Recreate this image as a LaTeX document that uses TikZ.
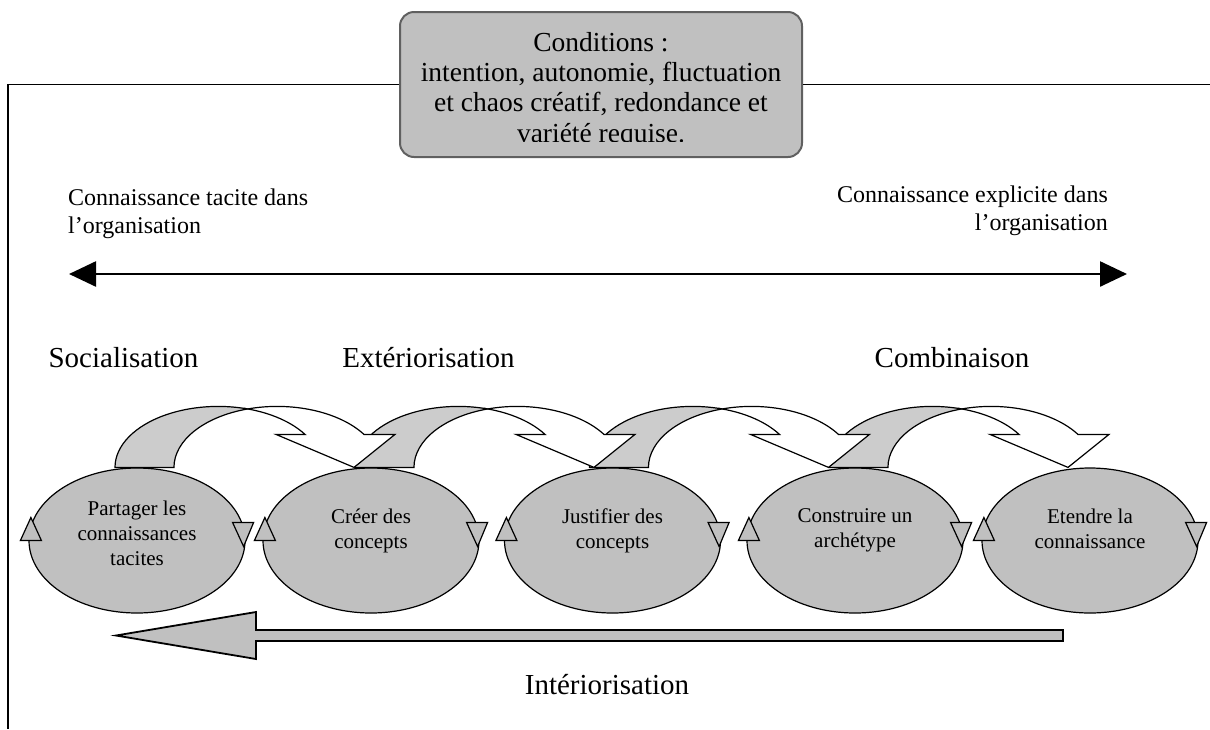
\documentclass[tikz,border=0pt]{standalone}
\usepackage{fontspec}
\setmainfont{Liberation Serif}
\usetikzlibrary{shapes.geometric,arrows.meta}
\definecolor{phasegray}{RGB}{192,192,192}
\definecolor{bandgray}{RGB}{204,204,204}
\definecolor{boxborder}{RGB}{96,96,96}

% curved block arrow sitting on top of an ellipse: #1 ellipse, #2 shift of the tail
\newcommand{\bandarrow}[2]{%
  \begin{scope}[shift={(#1.north)}, xshift=#2pt]
    \filldraw[band] (0,0) arc[start angle=180, end angle=73.4, x radius=103.2pt, y radius=61pt]
      arc[start angle=106.6, end angle=180, x radius=103.2pt, y radius=61pt] -- cycle;
    \filldraw[bandfront] (132.7,58.45) arc[start angle=106.6, end angle=32.75, x radius=103.2pt, y radius=61pt]
      -- (280,33) -- (239,0) -- (161,33) -- (190,33)
      arc[start angle=32.75, end angle=73.4, x radius=103.2pt, y radius=61pt] -- cycle;
  \end{scope}}

\begin{document}
\begin{tikzpicture}[x=1pt, y=1pt]
    \tikzstyle{condbox} = [rectangle, rounded corners=14pt, draw=boxborder, fill=phasegray, line width=2pt, minimum width=402pt, minimum height=145pt, inner sep=0pt]
    \tikzstyle{condtext} = [align=center, anchor=north, inner sep=0pt, font=\fontsize{27.5}{30.3}\selectfont]
    \tikzstyle{phase} = [ellipse, draw, fill=phasegray, line width=1.2pt, minimum width=216pt, minimum height=145pt, inner sep=0pt]
    \tikzstyle{phasetext} = [align=center, anchor=north, inner sep=0pt, font=\fontsize{21}{25}\selectfont]
    \tikzstyle{mode} = [anchor=base, inner sep=0pt, font=\fontsize{29}{33}\selectfont]
    \tikzstyle{pole} = [inner sep=0pt, font=\fontsize{24}{28}\selectfont]
    \tikzstyle{band} = [draw, fill=bandgray, line width=1.2pt]
    \tikzstyle{bandfront} = [draw, fill=white, line width=1.2pt]
    \tikzstyle{turn} = [draw, fill=phasegray, line width=1.2pt]
    \tikzstyle{frameline} = [line width=1.5pt]
    \tikzstyle{axis} = [{Triangle[length=27pt,width=25pt]}-{Triangle[length=27pt,width=25pt]}, line width=2.5pt]

    \useasboundingbox (0,0) rectangle (1210,-729);

    % Conditions
    \node [condbox] (cond) at (601,-84.5) {};
    \begin{scope}
      \clip (400,-12) rectangle (802,-141.5);
      \node [condtext] (condlabel) at (601,-32) {Conditions :\\intention, autonomie, fluctuation\\et chaos créatif, redondance et\\variété requise.};
    \end{scope}

    % Frame
    \coordinate (corner) at (8,-84.5);
    \draw [frameline] (cond.west) -- (corner) -- (8,-729);
    \draw [frameline] (cond.east) -- (1210,-84.5);

    % Tacit / explicit
    \node [pole, anchor=north west, align=left] (tacite) at (68,-189) {Connaissance tacite dans\\l’organisation};
    \node [pole, anchor=north east, align=right] (explicite) at (1108,-186) {Connaissance explicite dans\\l’organisation};
    \coordinate (tacitend) at (69,-274);
    \coordinate (explicitend) at (1127,-274);
    \draw [axis] (tacitend) -- (explicitend);

    % Modes
    \node [mode] (socia) at (123.5,-367) {Socialisation};
    \node [mode] (exter) at (428.5,-367) {Extériorisation};
    \node [mode] (combi) at (952,-367) {Combinaison};

    % Phases
    \node [phase] (e1) at (137,-540.5) {};
    \node [phase] (e2) at (371,-540.5) {};
    \node [phase] (e3) at (612.5,-540.5) {};
    \node [phase] (e4) at (855,-540.5) {};
    \node [phase] (e5) at (1090,-540.5) {};
    \node [phasetext] (t1) at ([yshift=40pt]e1.center) {Partager les\\connaissances\\tacites};
    \node [phasetext] (t2) at ([yshift=32pt]e2.center) {Créer des\\concepts};
    \node [phasetext] (t3) at ([yshift=32pt]e3.center) {Justifier des\\concepts};
    \node [phasetext] (t4) at ([yshift=32pt]e4.center) {Construire un\\archétype};
    \node [phasetext] (t5) at ([yshift=32pt]e5.center) {Etendre la\\connaissance};
    \foreach \e in {e1,e2,e3,e4,e5} {
      \filldraw [turn] ([xshift=-8pt]\e.west) -- ([xshift=13pt]\e.west) -- ([shift={(2.5,23)}]\e.west) -- cycle;
      \filldraw [turn] ([shift={(-13,18)}]\e.east) -- ([shift={(8,18)}]\e.east) -- ([shift={(-2,-6)}]\e.east) -- cycle;
    }

    % Curved arrows
    \bandarrow{e4}{-26}
    \bandarrow{e3}{-23}
    \bandarrow{e2}{-16}
    \bandarrow{e1}{-22}

    % Interiorisation
    \filldraw [fill=phasegray, line width=1.8pt] (1063,-630) -- (256,-630) -- (256,-612) -- (116,-635.5) -- (256,-659) -- (256,-641) -- (1063,-641) -- cycle;
    \node [mode] (inter) at (607,-694) {Intériorisation};
\end{tikzpicture}
\end{document}
